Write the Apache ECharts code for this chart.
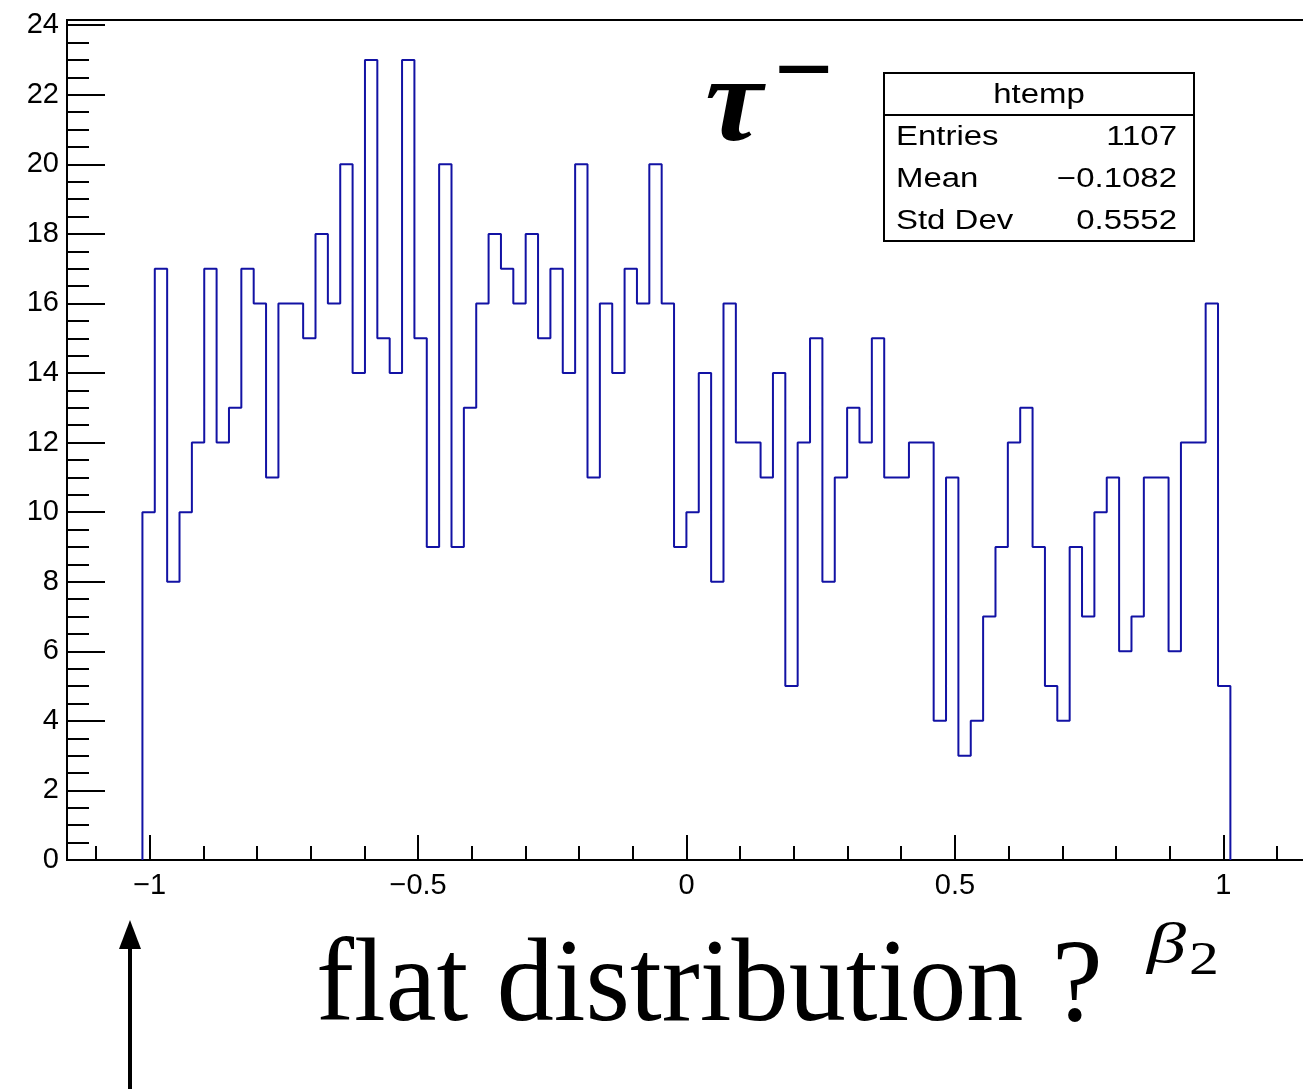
<!DOCTYPE html>
<html><head><meta charset="utf-8">
<script src="https://cdn.jsdelivr.net/npm/echarts@6/dist/echarts.min.js"></script>
<style>html,body{margin:0;padding:0;background:#fff}#c{width:1303px;height:1091px}</style>
</head><body><div id="c"></div>
<script>
// ---- data ----
const binLow = -1.0135;          // lower edge of first non-empty bin
const binWidth = 0.02303;        // bin width
const counts = [10,17,8,10,12,17,12,13,17,16, 11,16,16,15,18,16,20,14,23,15,
                14,23,15,9,20,9,13,16,18,17, 16,18,15,17,14,20,11,16,14,17,
                16,20,16,9,10,14,8,16,12,12, 11,14,5,12,15,8,11,13,12,15,
                11,11,12,12,4,11,3,4,7,9, 12,13,9,5,4,9,7,10,11,6,
                7,11,11,6,12,12,16,5];
const xRange = [-1.154, 1.154];
const yRange = [0, 24.15];
const xMajorTicks = [-1, -0.5, 0, 0.5, 1];
const xMinorTicks = [-1.1,-1.0,-0.9,-0.8,-0.7,-0.6,-0.5,-0.4,-0.3,-0.2,-0.1,0,0.1,0.2,0.3,0.4,0.5,0.6,0.7,0.8,0.9,1.0,1.1];
const yMajorTicks = [0,2,4,6,8,10,12,14,16,18,20,22,24];
const statsTitle = 'htemp';
const statsLabels = ['Entries', 'Mean', 'Std Dev'];
const statsValues = ['1107', '\u22120.1082', '0.5552'];

// minor y ticks: 4 subdivisions of each major interval
const yMinorTicks = [];
for (let i = 0; i < yMajorTicks.length - 1; i++) {
  const a = yMajorTicks[i], b = yMajorTicks[i + 1];
  for (let j = 0; j < 4; j++) yMinorTicks.push(a + (b - a) * j / 4);
}
yMinorTicks.push(yMajorTicks[yMajorTicks.length - 1]);

// histogram outline as step line through bin edges
const stepData = [[binLow, 0]];
counts.forEach((c, i) => stepData.push([binLow + i * binWidth, c]));
const binHigh = binLow + counts.length * binWidth;
stepData.push([binHigh, counts[counts.length - 1]]);
stepData.push([binHigh, 0]);

const tickStyle = {color: '#000', width: 2};
const labelFont = {color: '#000', fontSize: 29, fontFamily: 'Liberation Sans'};
const fmt = v => String(v).replace('-', '\u2212');

const chart = echarts.init(document.getElementById('c'), null, {renderer: 'canvas'});

const SERIF = 'Liberation Serif';
const SANS = 'Liberation Sans';
const statsFS = 27, statsSX = 1.22;
const statsBase = [147.3, 189, 230.7];
const mid = (base, fs, k) => base - k * fs;
const KS = 0.28;   // serif middle->baseline factor
const KA = 0.3465; // sans

const graphics = [
  {type: 'rect', shape: {x: 884, y: 73, width: 310, height: 168}, style: {fill: '#fff', stroke: '#000', lineWidth: 2}, z: 10},
  {type: 'line', shape: {x1: 884, y1: 115, x2: 1194, y2: 115}, style: {stroke: '#000', lineWidth: 2}, z: 11},
  {type: 'text', x: 1039, y: mid(104.5, statsFS, KA), scaleX: statsSX, z: 11,
   style: {x: 0, y: 0, text: statsTitle, fill: '#000', font: statsFS + 'px "' + SANS + '"', textAlign: 'center', textVerticalAlign: 'middle'}},
  // tau^-
  {type: 'text', x: 705, y: mid(143, 120, KS), scaleX: 1.08, z: 11,
   style: {x: 0, y: 0, text: '\u03c4', fill: '#000', font: 'italic bold 120px "' + SERIF + '"', textAlign: 'left', textVerticalAlign: 'middle'}},
  {type: 'text', x: 774, y: 77, z: 11,
   style: {x: 0, y: 0, text: '\u2212', fill: '#000', font: 'bold 105px "' + SERIF + '"', textAlign: 'left', textVerticalAlign: 'middle'}},
  // flat distribution ?
  {type: 'text', x: 316, y: mid(1022, 118, KS), scaleX: 0.968, z: 11,
   style: {x: 0, y: 0, text: 'flat distribution ?', fill: '#000', font: '118px "' + SERIF + '"', textAlign: 'left', textVerticalAlign: 'middle'}},
  // beta_2
  {type: 'text', x: 1147, y: 947, scaleX: 1.35, z: 11,
   style: {x: 0, y: 0, text: '\u03b2', fill: '#000', font: 'italic 58px "' + SERIF + '"', textAlign: 'left', textVerticalAlign: 'middle'}},
  {type: 'text', x: 1189, y: 962, scaleX: 1.3, z: 11,
   style: {x: 0, y: 0, text: '2', fill: '#000', font: '46px "' + SERIF + '"', textAlign: 'left', textVerticalAlign: 'middle'}},
  // arrow
  {type: 'line', shape: {x1: 130, y1: 1089, x2: 130, y2: 944}, style: {stroke: '#000', lineWidth: 4}, z: 11},
  {type: 'polygon', shape: {points: [[130, 920], [119, 949], [141, 949]]}, style: {fill: '#000'}, z: 11}
];
statsLabels.forEach((t, i) => graphics.push({
  type: 'text', x: 896, y: mid(statsBase[i], statsFS, KA), scaleX: statsSX, z: 11,
  style: {x: 0, y: 0, text: t, fill: '#000', font: statsFS + 'px "' + SANS + '"', textAlign: 'left', textVerticalAlign: 'middle'}
}));
statsValues.forEach((t, i) => graphics.push({
  type: 'text', x: 1177, y: mid(statsBase[i], statsFS, KA), scaleX: statsSX, z: 11,
  style: {x: 0, y: 0, text: t, fill: '#000', font: statsFS + 'px "' + SANS + '"', textAlign: 'right', textVerticalAlign: 'middle'}
}));

chart.setOption({
  animation: false,
  backgroundColor: '#fff',
  grid: {left: 67, top: 20, right: -3, bottom: 231, show: true, borderColor: '#000', borderWidth: 2,
         backgroundColor: 'transparent', containLabel: false, outerBoundsMode: 'none'},
  xAxis: [
    {type: 'value', min: xRange[0], max: xRange[1], position: 'bottom',
     axisLine: {show: true, onZero: false, lineStyle: tickStyle},
     axisTick: {show: true, inside: true, length: 25, customValues: xMajorTicks, lineStyle: tickStyle},
     axisLabel: Object.assign({show: true, customValues: xMajorTicks, margin: 11, formatter: fmt}, labelFont),
     splitLine: {show: false}},
    {type: 'value', min: xRange[0], max: xRange[1], position: 'bottom',
     axisLine: {show: false, onZero: false},
     axisTick: {show: true, inside: true, length: 14, customValues: xMinorTicks, lineStyle: tickStyle},
     axisLabel: {show: false, customValues: xMinorTicks},
     splitLine: {show: false}}
  ],
  yAxis: [
    {type: 'value', min: yRange[0], max: yRange[1], position: 'left',
     axisLine: {show: true, onZero: false, lineStyle: tickStyle},
     axisTick: {show: true, inside: true, length: 38, customValues: yMajorTicks, lineStyle: tickStyle},
     axisLabel: Object.assign({show: true, customValues: yMajorTicks, margin: 8}, labelFont),
     splitLine: {show: false}},
    {type: 'value', min: yRange[0], max: yRange[1], position: 'left',
     axisLine: {show: false, onZero: false},
     axisTick: {show: true, inside: true, length: 22, customValues: yMinorTicks, lineStyle: tickStyle},
     axisLabel: {show: false, customValues: yMinorTicks},
     splitLine: {show: false}}
  ],
  series: [{
    type: 'line', xAxisIndex: 0, yAxisIndex: 0, step: 'end', data: stepData,
    symbol: 'none', showSymbol: false, lineStyle: {color: '#1212a4', width: 2}, z: 2
  }],
  graphic: graphics
});
</script>
</body></html>
